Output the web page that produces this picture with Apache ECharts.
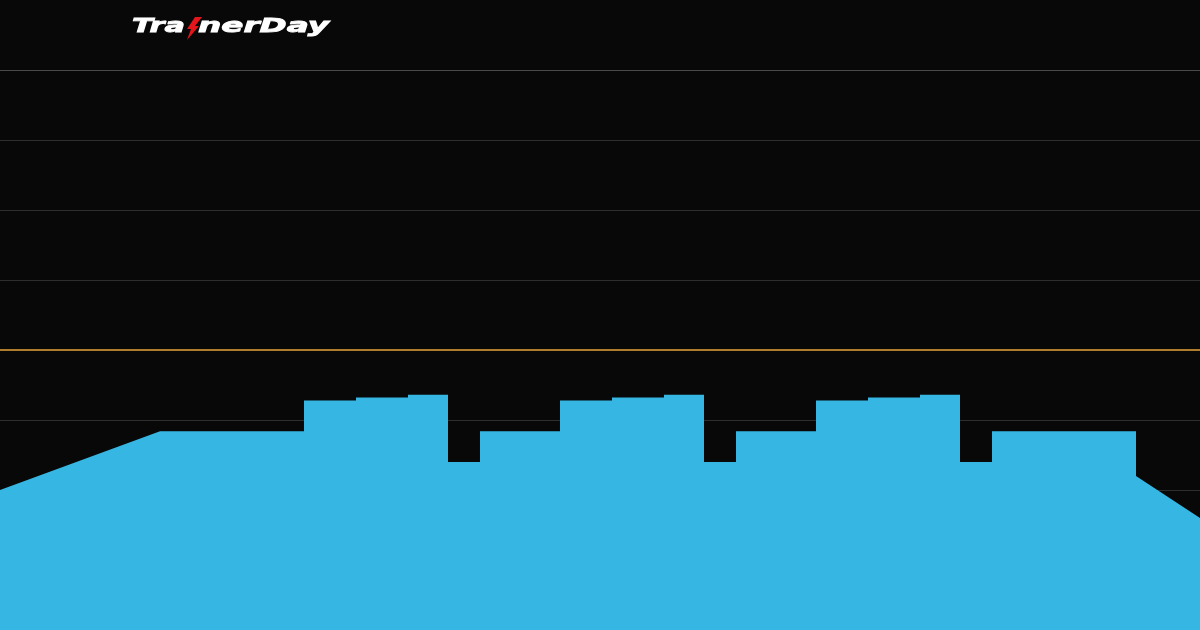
<!DOCTYPE html>
<html>
<head>
<meta charset="utf-8">
<script src="https://cdn.jsdelivr.net/npm/echarts@6/dist/echarts.min.js"></script>
<style>
html,body{margin:0;padding:0;background:#080808;}
#chart{width:1200px;height:630px;}
</style>
</head>
<body>
<div id="chart"></div>
<script>
// Workout segments: duration (minutes), start and end power (% FTP)
const segDurations = [20, 18, 6.5, 6.5, 5, 4, 10, 6.5, 6.5, 5, 4, 10, 6.5, 6.5, 5, 4, 18, 8];
const segStartPct  = [50, 71, 82, 83, 84, 60, 71, 82, 83, 84, 60, 71, 82, 83, 84, 60, 71, 55];
const segEndPct    = [71, 71, 82, 83, 84, 60, 71, 82, 83, 84, 60, 71, 82, 83, 84, 60, 71, 40];
const ftpPct = 100;
const topRefPct = 200;
const yTicks = {min: 0, max: 225, interval: 25};

const points = [];
let t = 0;
segDurations.forEach((d, i) => {
  points.push([t, segStartPct[i]]);
  t += d;
  points.push([t, segEndPct[i]]);
});
const totalTime = t;

const splitColors = [];
for (let v = yTicks.min; v <= yTicks.max; v += yTicks.interval) {
  let c = '#2e2e2e';
  if (v === topRefPct) c = '#4a4a4a';
  if (v === ftpPct || v === yTicks.max) c = 'rgba(0,0,0,0)';
  splitColors.push(c);
}

const logoFont = 'italic bold 19px "DejaVu Sans"';
const chart = echarts.init(document.getElementById('chart'), null, {renderer: 'canvas'});
chart.setOption({
  backgroundColor: '#080808',
  animation: false,
  grid: {left: 0, right: 0, top: 0, bottom: 0},
  xAxis: {
    type: 'value', min: 0, max: totalTime,
    axisLine: {show: false}, axisTick: {show: false}, axisLabel: {show: false},
    splitLine: {show: false}
  },
  yAxis: {
    type: 'value', min: yTicks.min, max: yTicks.max, interval: yTicks.interval,
    axisLine: {show: false}, axisTick: {show: false}, axisLabel: {show: false},
    splitLine: {show: true, lineStyle: {color: splitColors, width: 1}}
  },
  series: [{
    type: 'line',
    data: points,
    symbol: 'none',
    lineStyle: {width: 0, color: '#36b6e3'},
    areaStyle: {color: '#36b6e3', opacity: 1},
    z: 2,
    markLine: {
      silent: true, symbol: 'none', label: {show: false},
      lineStyle: {color: '#b07d2c', width: 2, type: 'solid'},
      data: [{yAxis: ftpPct}],
      z: 3
    }
  }],
  graphic: [
    {type: 'text', x: 132, y: 18, scaleX: 1.6,
     style: {text: 'Tra', fill: '#ffffff', stroke: '#ffffff', lineWidth: 0.8, font: logoFont, verticalAlign: 'top'}},
    {type: 'polygon', shape: {points: [[195, 17], [202, 17], [195, 26], [199, 26], [187, 40], [191, 29], [187, 29]]},
     style: {fill: '#e3161c'}},
    {type: 'text', x: 198, y: 18, scaleX: 1.72,
     style: {text: 'nerDay', fill: '#ffffff', stroke: '#ffffff', lineWidth: 0.8, font: logoFont, verticalAlign: 'top'}}
  ]
});
</script>
</body>
</html>
